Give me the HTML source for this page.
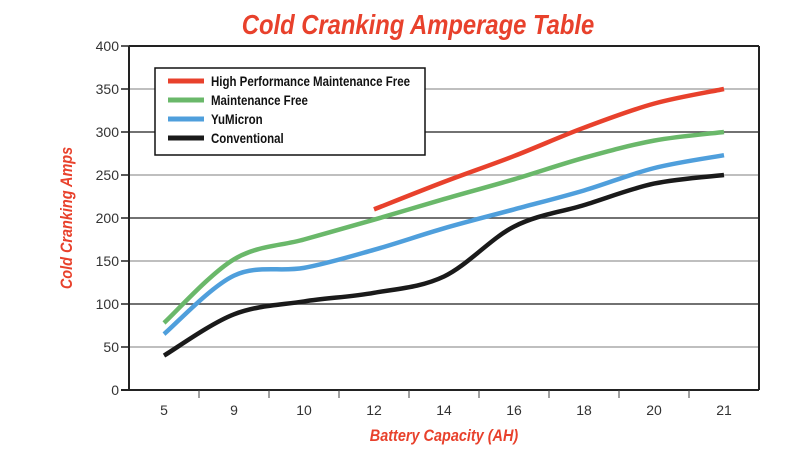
<!DOCTYPE html>
<html><head><meta charset="utf-8"><style>
body{margin:0;background:#fff;}
svg text{font-family:"Liberation Sans",sans-serif;}
</style></head><body>
<svg id="chart" width="789" height="459" viewBox="0 0 789 459" xmlns="http://www.w3.org/2000/svg">
<text x="418" y="34" text-anchor="middle" font-size="28" font-weight="bold" font-style="italic" fill="#e8412c" transform="translate(418 0) scale(0.85 1) translate(-418 0)">Cold Cranking Amperage Table</text>
<text transform="translate(72 218) rotate(-90) scale(0.85 1)" text-anchor="middle" font-size="17" font-weight="bold" font-style="italic" fill="#e8412c">Cold Cranking Amps</text>
<text x="444" y="441" text-anchor="middle" font-size="17" font-weight="bold" font-style="italic" fill="#e8412c" transform="translate(444 0) scale(0.85 1) translate(-444 0)">Battery Capacity (AH)</text>
<g id="grid"></g><g id="series"></g>
<g>
<rect x="155" y="68" width="270" height="87" fill="#fff" stroke="#111" stroke-width="1.5"/>
<g id="legend-items"></g>
</g>
</svg>
<script>
const categories=["5","9","10","12","14","16","18","20","21"];
const yTicks=[0,50,100,150,200,250,300,350,400];
const seriesNames=["High Performance Maintenance Free","Maintenance Free","YuMicron","Conventional"];
const hpmf=[null,null,null,210,242,272,305,333,350];
const mf=[78,152,175,198,222,245,270,290,300];
const yum=[65,133,142,163,188,210,232,258,273];
const conv=[40,88,103,113,132,190,215,240,250];
const colors=["#e8412c","#6ab86a","#4f9fdc","#1a1a1a"];
const NS="http://www.w3.org/2000/svg";
const L=129,R=759,T=46,B=390,band=(R-L)/categories.length;
const x=i=>L+band*(i+0.5);
const y=v=>B-(v/400)*(B-T);
function mk(tag,attrs,parent){const e=document.createElementNS(NS,tag);for(const k in attrs)e.setAttribute(k,attrs[k]);parent.appendChild(e);return e;}
const grid=document.getElementById('grid');
yTicks.forEach((t,i)=>{
 if(t>0&&t<400){const g=mk('line',{x1:L,x2:R,y1:y(t),y2:y(t),stroke:(t%100===0)?'#444':'#aaa','stroke-width':1.5},grid);
 
 }
 const tk=mk('line',{x1:L-8,x2:L,y1:y(t),y2:y(t),stroke:'#222','stroke-width':1.5},grid);
 
 
 const tx=mk('text',{x:L-10,y:y(t)+5,'text-anchor':'end','font-size':14,fill:'#333'},grid);tx.textContent=t;
 
 
});
mk('line',{x1:L,x2:R,y1:T,y2:T,stroke:'#222','stroke-width':2},grid);
mk('line',{x1:L,x2:L,y1:T,y2:B,stroke:'#222','stroke-width':2},grid);
mk('line',{x1:R,x2:R,y1:T,y2:B,stroke:'#222','stroke-width':2},grid);
mk('line',{x1:L-8,x2:R,y1:B,y2:B,stroke:'#222','stroke-width':2},grid);
categories.forEach((c,i)=>{
 if(i>0){const tk=mk('line',{x1:L+band*i,x2:L+band*i,y1:B,y2:B+8,stroke:'#444','stroke-width':1},grid);
 
 }
 const tx=mk('text',{x:x(i),y:B+25,'text-anchor':'middle','font-size':14,fill:'#333'},grid);tx.textContent=c;
 
 
});
function path(vals){
 const p=[];vals.forEach((v,i)=>{if(v!=null)p.push([x(i),y(v)]);});
 let d='M'+p[0][0]+','+p[0][1];
 for(let i=0;i<p.length-1;i++){const p0=p[i-1]||p[i],p1=p[i],p2=p[i+1],p3=p[i+2]||p2;
  const c1=[p1[0]+(p2[0]-p0[0])/6,p1[1]+(p2[1]-p0[1])/6],c2=[p2[0]-(p3[0]-p1[0])/6,p2[1]-(p3[1]-p1[1])/6];
  d+=` C${c1[0]},${c1[1]} ${c2[0]},${c2[1]} ${p2[0]},${p2[1]}`;}
 return d;
}
const ser=document.getElementById('series');
[conv,yum,mf,hpmf].forEach((vals,k)=>{const idx=3-k;
 const p=mk('path',{d:path(vals),fill:'none',stroke:colors[idx],'stroke-width':4.5},ser);
 
 
});
const lg=document.getElementById('legend-items');
seriesNames.forEach((n,i)=>{const yy=81+i*19;
 const ln=mk('line',{x1:168,x2:204,y1:yy,y2:yy,stroke:colors[i],'stroke-width':5},lg);
 
 
 const t=mk('text',{x:211,y:yy+5,'font-size':14,'font-weight':'bold',fill:'#111',transform:`translate(211 0) scale(0.82 1) translate(-211 0)`},lg);t.textContent=n;
 
 
});
</script>
</body></html>
